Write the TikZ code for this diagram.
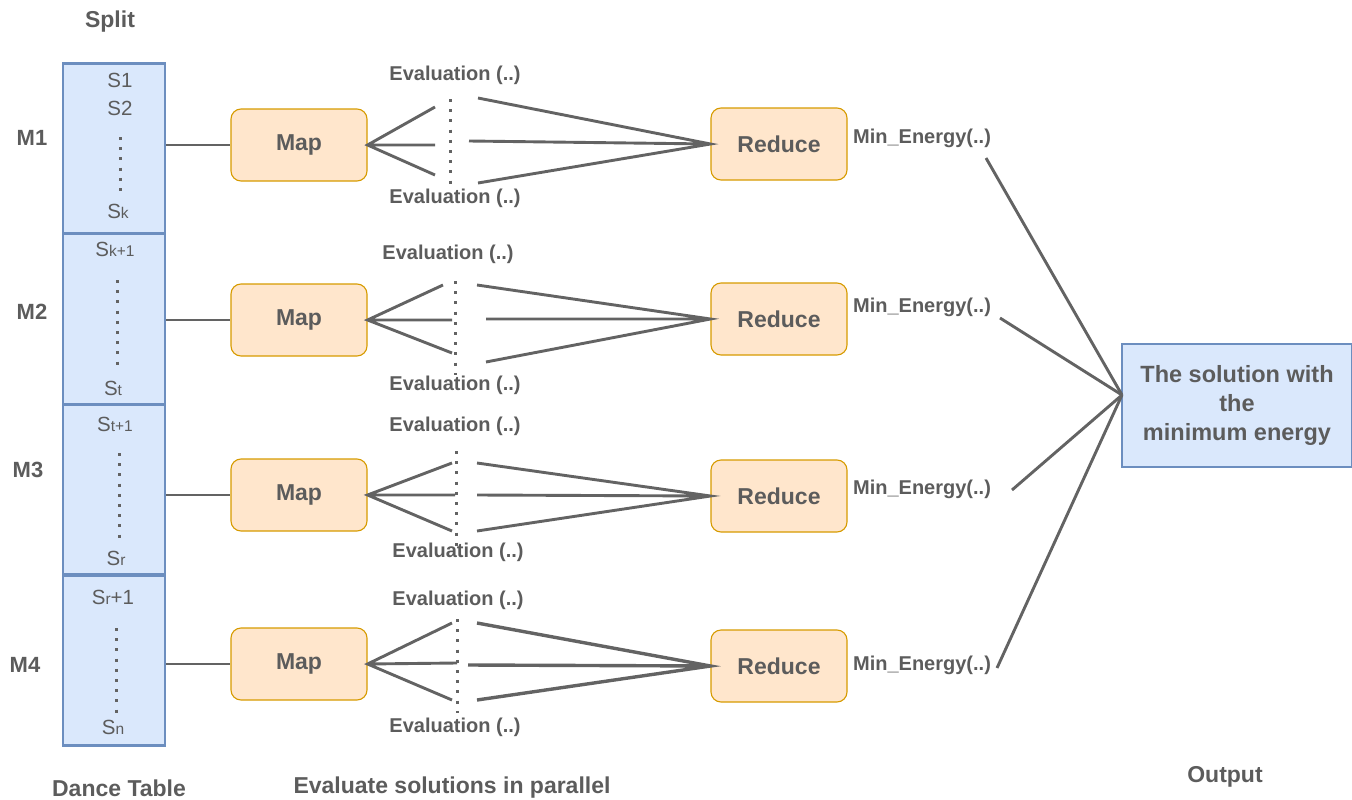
\documentclass[tikz,border=0pt]{standalone}
\usepackage{fontspec}
\setmainfont{Liberation Sans}
\definecolor{txt}{HTML}{5C5C5C}
\definecolor{wire}{HTML}{636363}
\definecolor{bluefill}{HTML}{DAE8FC}
\definecolor{blueline}{HTML}{6C8EBF}
\definecolor{orfill}{HTML}{FFE6CC}
\definecolor{orline}{HTML}{D79B00}
\tikzset{
  rowbox/.style={draw=blueline, fill=bluefill, line width=2.5pt, minimum width=102pt,
    minimum height=170pt, inner sep=0pt},
  mapbox/.style={draw=orline, fill=orfill, rounded corners=10pt, line width=1.1pt,
    minimum width=136pt, minimum height=72pt, text=txt,
    font=\fontsize{23}{27}\selectfont\bfseries},
  outbox/.style={draw=blueline, fill=bluefill, line width=2pt, minimum width=230pt,
    minimum height=123pt, text=txt, align=center,
    font=\fontsize{23.5}{29}\selectfont\bfseries},
  stxt/.style={text=txt, inner sep=0pt, font=\fontsize{20.5}{24}\selectfont},
  lbl/.style={text=txt, inner sep=0pt, font=\fontsize{23}{27}\selectfont\bfseries},
  mlbl/.style={text=txt, inner sep=0pt, font=\fontsize{22}{26}\selectfont\bfseries},
  evl/.style={text=txt, inner sep=0pt, font=\fontsize{20}{24}\selectfont\bfseries},
  wireline/.style={draw=wire, line width=2.9pt},
  dotline/.style={draw=wire, line width=3pt, dash pattern=on 3pt off 7.2pt},
}
\newcommand{\lsub}[1]{{\fontsize{15.5}{15.5}\selectfont #1}}
\begin{document}
\begin{tikzpicture}[x=1pt,y=-1pt]
\useasboundingbox (0,0) rectangle (1352,800);

% headings
\node[lbl] at (110,22) {Split};
\node[lbl] at (119,788) {Dance Table};
\node[lbl] at (452,788) {Evaluate solutions in parallel};
\node[lbl] at (1225,777) {Output};

% dance table split into four row blocks
\node[rowbox] (r1) at (114,148.5) {};
\node[rowbox] (r2) at (114,319) {};
\node[rowbox] (r3) at (114,489.5) {};
\node[rowbox] (r4) at (114,660.5) {};

\node[mlbl] (m1) at (32,138) {M1};
\node[mlbl] (m2) at (32,312) {M2};
\node[mlbl] (m3) at (28,470) {M3};
\node[mlbl] (m4) at (25,665) {M4};

% row contents
\node[stxt] (s1) at (120,80) {S1};
\node[stxt] (s2) at (120,108) {S2};
\draw[dotline] (120,137) -- (120,197);
\node[stxt] (sk) at (118,211) {S\lsub{k}};

\node[stxt] (sk1) at (115,249) {S\lsub{k+1}};
\draw[dotline] (117,280) -- (117,366);
\node[stxt] (st) at (113,388) {S\lsub{t}};

\node[stxt] (st1) at (115,424) {S\lsub{t+1}};
\draw[dotline] (119,453) -- (119,539);
\node[stxt] (sr) at (116,558) {S\lsub{r}};

\node[stxt] (sr1) at (113,597) {S\lsub{r}+1};
\draw[dotline] (116,628) -- (116,714);
\node[stxt] (sn) at (113,727) {S\lsub{n}};

% map and reduce stages
\node[mapbox] (map1) at (299,145) {Map};
\node[mapbox] (map2) at (299,320) {Map};
\node[mapbox] (map3) at (299,495) {Map};
\node[mapbox] (map4) at (299,664) {Map};

\node[mapbox] (red1) at (779,144) {Reduce};
\node[mapbox] (red2) at (779,319) {Reduce};
\node[mapbox] (red3) at (779,496) {Reduce};
\node[mapbox] (red4) at (779,666) {Reduce};

\draw[wireline] (r1.east |- map1.west) -- (map1.west);
\draw[wireline] (r2.east |- map2.west) -- (map2.west);
\draw[wireline] (r3.east |- map3.west) -- (map3.west);
\draw[wireline] (r4.east |- map4.west) -- (map4.west);

% evaluation fans, row 1
\node[evl] (ev1a) at (455,75) {Evaluation (..)};
\node[evl] (ev1b) at (455,198) {Evaluation (..)};
\coordinate (a1t) at (435,107); \coordinate (a1m) at (435,145); \coordinate (a1b) at (435,175);
\coordinate (b1t) at (478,98);  \coordinate (b1m) at (469,141); \coordinate (b1b) at (478,183);
\draw[wireline] (a1t) -- (map1.east) -- (a1b) (map1.east) -- (a1m);
\draw[wireline] (b1t) -- (red1.west) -- (b1b) (b1m) -- (red1.west);
\draw[dotline] (450,99) -- (450,185);

% row 2
\node[evl] (ev2a) at (448,254) {Evaluation (..)};
\node[evl] (ev2b) at (455,385) {Evaluation (..)};
\coordinate (a2t) at (443,285); \coordinate (a2m) at (452,320); \coordinate (a2b) at (452,353);
\coordinate (b2t) at (477,285); \coordinate (b2m) at (486,319); \coordinate (b2b) at (486,362);
\draw[wireline] (a2t) -- (map2.east) -- (a2b) (map2.east) -- (a2m);
\draw[wireline] (b2t) -- (red2.west) -- (b2b) (b2m) -- (red2.west);
\draw[dotline] (455,281) -- (455,375);

% row 3
\node[evl] (ev3a) at (455,426) {Evaluation (..)};
\node[evl] (ev3b) at (458,552) {Evaluation (..)};
\coordinate (a3t) at (452,463); \coordinate (a3m) at (455,495); \coordinate (a3b) at (452,531);
\coordinate (b3t) at (477,463); \coordinate (b3m) at (477,495); \coordinate (b3b) at (477,531);
\draw[wireline] (a3t) -- (map3.east) -- (a3b) (map3.east) -- (a3m);
\draw[wireline] (b3t) -- (red3.west) -- (b3b) (b3m) -- (red3.west);
\draw[dotline] (456,451) -- (456,547);

% row 4
\node[evl] (ev4a) at (458,600) {Evaluation (..)};
\node[evl] (ev4b) at (455,727) {Evaluation (..)};
\coordinate (a4t) at (452,623); \coordinate (a4m) at (457,663); \coordinate (a4b) at (452,700);
\coordinate (b4t) at (477,623); \coordinate (b4m) at (468,665); \coordinate (b4b) at (477,700);
\draw[wireline] (a4t) -- (map4.east) -- (a4b) (map4.east) -- (a4m);
\draw[wireline, line width=3.4pt] (b4t) -- (red4.west) -- (b4b) (b4m) -- (red4.west);
\draw[dotline] (457,619) -- (457,713);

% results gathered into the final output
\node[evl] (me1) at (922,138) {Min\_Energy(..)};
\node[evl] (me2) at (922,307) {Min\_Energy(..)};
\node[evl] (me3) at (922,489) {Min\_Energy(..)};
\node[evl] (me4) at (922,665) {Min\_Energy(..)};

\node[outbox] (out) at (1237,405.5) {The solution with\\the\\minimum energy};
\coordinate (join) at (1122,395);
\coordinate (c1) at (986,158);
\coordinate (c2) at (1000,318);
\coordinate (c3) at (1012,490);
\coordinate (c4) at (997,668);
\draw[wireline] (c1) -- (join);
\draw[wireline] (c2) -- (join);
\draw[wireline] (c3) -- (join);
\draw[wireline] (c4) -- (join);
\end{tikzpicture}
\end{document}
